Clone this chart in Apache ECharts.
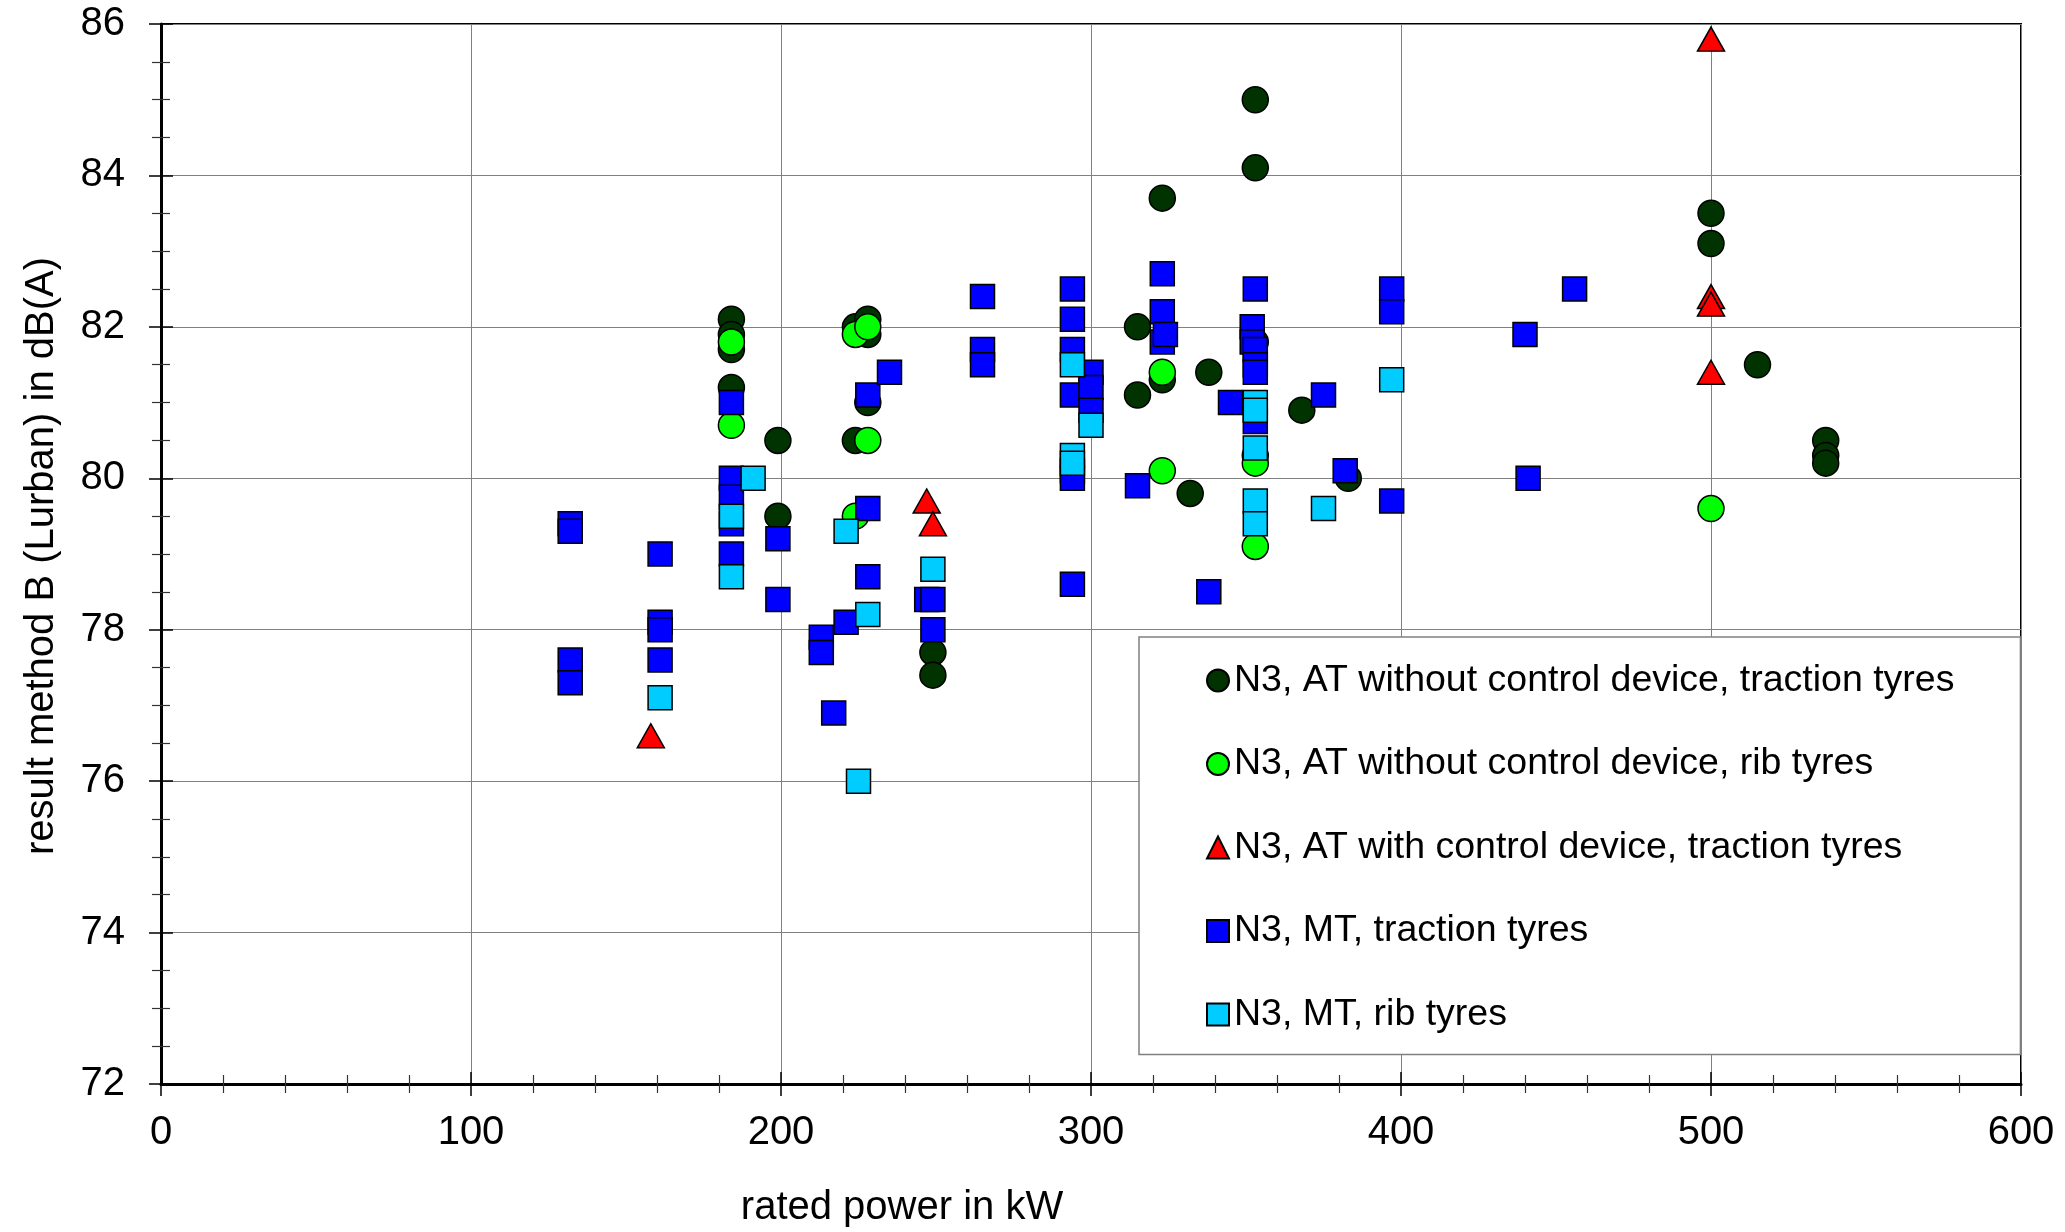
<!DOCTYPE html>
<html>
<head>
<meta charset="utf-8">
<script src="https://cdn.jsdelivr.net/npm/echarts@6/dist/echarts.min.js"></script>
<style>
html,body{margin:0;padding:0;background:#fff;}
#chart{width:2065px;height:1232px;}
</style>
</head>
<body>
<div id="chart"></div>
<script>
// ---- data: [rated power kW, result dB(A)] ----
const seriesNames = [
  'N3, AT without control device, traction tyres',
  'N3, AT without control device, rib tyres',
  'N3, AT with control device, traction tyres',
  'N3, MT, traction tyres',
  'N3, MT, rib tyres'
];
const atNoCtrlTraction = [
  [184,82.1],[184,81.9],[184,81.7],[184,81.2],
  [199,80.5],[199,79.5],
  [224,82.0],[228,82.1],[228,81.9],[224,80.5],[228,81.0],
  [249,77.7],[249,77.4],
  [315,82.0],[315,81.1],
  [323,83.7],[323,81.3],
  [332,79.8],[338,81.4],
  [353,85.0],[353,84.1],[353,81.8],
  [368,80.9],[383,80.0],
  [500,83.5],[500,83.1],
  [515,81.5],
  [537,80.5],[537,80.3],[537,80.2]
];
const atNoCtrlRib = [
  [184,81.8],[184,80.7],
  [224,81.9],[228,82.0],[228,80.5],[224,79.5],
  [323,81.4],[323,80.1],
  [353,80.3],[353,80.2],[353,79.1],
  [500,79.6]
];
const atCtrlTraction = [
  [158,76.6],[247,79.7],[249,79.4],
  [500,85.8],[500,82.4],[500,82.3],[500,81.4]
];
const mtTraction = [
  [132,79.4],[132,79.3],[132,77.6],[132,77.3],
  [161,79.0],[161,78.1],[161,78.0],[161,77.6],
  [184,81.0],[184,80.0],[184,79.75],[184,79.4],[184,79.0],
  [199,79.2],[199,78.4],
  [213,77.9],[213,77.7],[217,76.9],[221,78.1],
  [228,81.1],[228,79.6],[228,78.7],[235,81.4],
  [247,78.4],[249,78.4],[249,78.0],
  [265,82.4],[265,81.7],[265,81.5],
  [294,82.5],[294,82.1],[294,81.7],[294,81.1],[294,80.1],[294,80.0],[294,78.6],
  [300,81.4],[300,81.2],[300,80.9],
  [315,79.9],
  [323,82.7],[323,82.2],[323,81.8],[324,81.9],
  [338,78.5],[345,81.0],
  [352,82.0],[352,81.8],[353,82.5],[353,81.7],[353,81.5],[353,81.4],[353,80.75],
  [375,81.1],[382,80.1],
  [397,82.5],[397,82.2],[397,79.7],
  [440,81.9],[441,80.0],[456,82.5]
];
const mtRib = [
  [161,77.1],
  [184,79.5],[184,78.7],[191,80.0],
  [221,79.3],[225,76.0],[228,78.2],[249,78.8],
  [294,81.5],[294,80.3],[294,80.2],[300,80.7],
  [353,81.0],[353,80.9],[353,80.4],[353,79.7],[353,79.4],
  [375,79.6],[397,81.3]
];
const xTitle = 'rated power in kW';
const yTitle = 'result method B (Lurban) in dB(A)';

// ---- styling ----
const FONT = '"Liberation Sans", Arial, Helvetica, sans-serif';
const colors = ['#003300', '#00ff00', '#ff0000', '#0000ff', '#00ccff'];
const symbols = ['circle', 'circle', 'triangle', 'rect', 'rect'];
const sizes = [26, 26, [27, 24], 24, 24];
const datasets = [atNoCtrlTraction, atNoCtrlRib, atCtrlTraction, mtTraction, mtRib];

function axisPair(isX) {
  const common = isX ? {type:'value', min:0, max:600, interval:100}
                     : {type:'value', min:72, max:86, interval:2};
  const pos = isX ? 'bottom' : 'left';
  const main = Object.assign({}, common, {
    position: pos,
    axisLine: {show:true, onZero:false, lineStyle:{color:'#000', width:3}},
    axisTick: {show:true, inside:false, length:12, lineStyle:{color:'#000', width:1.5}},
    minorTick: {show:true, splitNumber: isX ? 5 : 4, length:9, lineStyle:{color:'#333', width:1.2}},
    axisLabel: {show:true, color:'#000', fontSize:40, fontFamily:FONT, margin: isX ? 29 : 36,
                showMinLabel:true, showMaxLabel:true, hideOverlap:false},
    splitLine: {show:true, lineStyle:{color:'#808080', width:1}},
    minorSplitLine: {show:false},
    z: 5
  });
  const inner = Object.assign({}, common, {
    position: pos,
    offset: 0,
    axisLine: {show:false, onZero:false},
    axisTick: {show:true, inside:true, length:12, lineStyle:{color:'#000', width:1.5}},
    minorTick: {show:true, splitNumber: isX ? 5 : 4, length:9, lineStyle:{color:'#333', width:1.2}},
    axisLabel: {show:false},
    splitLine: {show:false},
    minorSplitLine: {show:false},
    z: 5
  });
  return [main, inner];
}

const series = datasets.map((d, i) => ({
  name: seriesNames[i],
  type: 'scatter',
  xAxisIndex: 0,
  yAxisIndex: 0,
  data: d,
  symbol: symbols[i],
  symbolSize: sizes[i],
  itemStyle: {color: colors[i], borderColor:'#000', borderWidth:1.5, opacity:1},
  emphasis: {disabled:true},
  z: 10 + i
}));

const chart = echarts.init(document.getElementById('chart'), null, {renderer:'canvas'});
chart.setOption({
  animation: false,
  backgroundColor: '#fff',
  grid: {
    left: 161, top: 24, width: 1860, height: 1060,
    show: true, borderColor: '#000', borderWidth: 2, backgroundColor: 'transparent',
    containLabel: false, outerBoundsMode: 'none'
  },
  xAxis: axisPair(true),
  yAxis: axisPair(false),
  legend: {
    show: true,
    orient: 'vertical',
    left: 1139, top: 637,
    padding: [23.5, 66, 20, 67],
    itemGap: 43.5,
    itemWidth: 22, itemHeight: 22,
    backgroundColor: '#fff',
    borderColor: '#808080', borderWidth: 1.5,
    textStyle: {color:'#000', fontSize:37.5, lineHeight:40, fontFamily:FONT},
    data: seriesNames,
    selectedMode: false,
    z: 20
  },
  graphic: [
    {type:'text', x: 902, y: 1208, z: 30,
     style:{text: xTitle, fill:'#000', font: '40px ' + FONT, textAlign:'center', textVerticalAlign:'middle'}},
    {type:'text', x: 42, y: 556, rotation: Math.PI/2, z: 30,
     style:{text: yTitle, fill:'#000', font: '40px ' + FONT, textAlign:'center', textVerticalAlign:'middle'}}
  ],
  series: series
});
</script>
</body>
</html>
